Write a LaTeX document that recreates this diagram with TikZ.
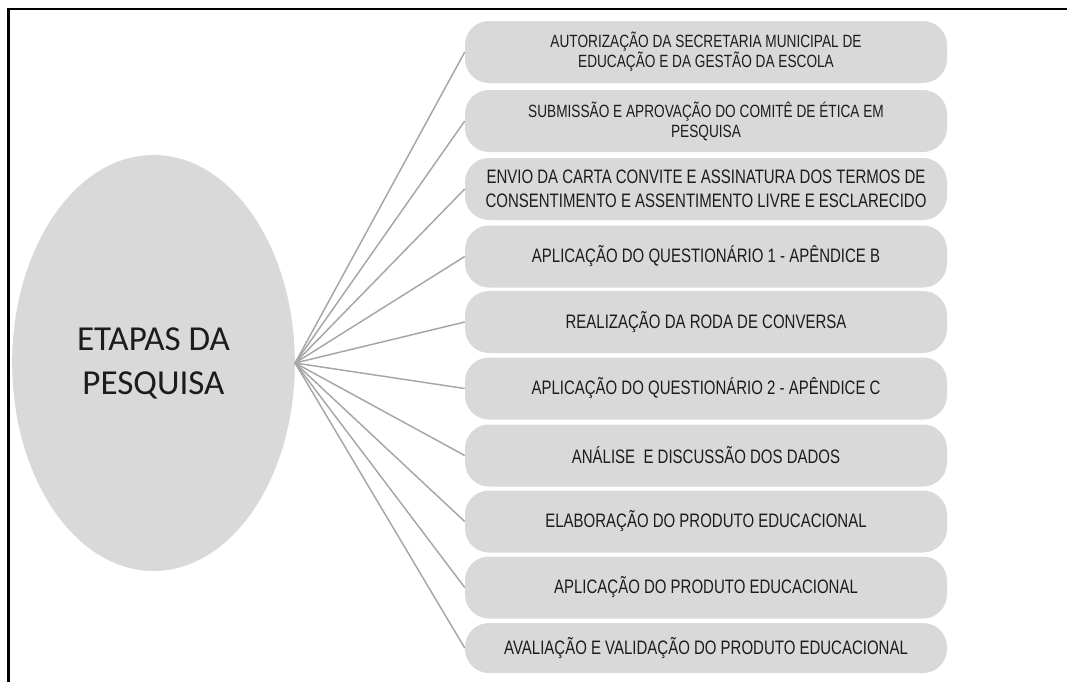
\documentclass[tikz,border=0pt]{standalone}
\usepackage{fontspec}
\setmainfont{Liberation Sans}
\newfontfamily\stepfont[FakeStretch=0.77]{Liberation Sans}
\newfontfamily\hubfont{Carlito}
\usepackage{tikz}
\usetikzlibrary{shapes.geometric}
\definecolor{stepgray}{HTML}{D9D9D9}
\definecolor{linkgray}{HTML}{A6A6A6}
\definecolor{inkgray}{HTML}{1C1C1C}
\tikzset{
  hub/.style={ellipse, fill=stepgray, minimum width=212pt, minimum height=312pt, inner sep=0pt,
    text=inkgray, align=center, font=\hubfont\fontsize{26.3}{33}\selectfont},
  stepbox/.style={fill=stepgray, rounded corners=18pt, minimum width=361.5pt, minimum height=46.5pt,
    inner sep=0pt, text=inkgray, align=center, font=\stepfont\fontsize{14.6}{18}\selectfont},
  stepsmall/.style={stepbox, font=\stepfont\fontsize{13.3}{15}\selectfont},
  link/.style={linkgray, line width=1.1pt},
  frameline/.style={black, line width=1.9pt},
}

\begin{document}
\begin{tikzpicture}[x=0.75pt,y=-0.75pt]
  \useasboundingbox (0,0) rectangle (1067,682);
  \draw[frameline] (8.5,682) -- (8.5,9) -- (1067,9);
  \node[hub] (etapas) at (153.5,363) {ETAPAS DA\\PESQUISA};
  \node[stepsmall] (s1) at (706,52) {AUTORIZAÇÃO DA SECRETARIA MUNICIPAL DE\\EDUCAÇÃO E DA GESTÃO DA ESCOLA};
  \node[stepsmall] (s2) at (706,121) {SUBMISSÃO E APROVAÇÃO DO COMITÊ DE ÉTICA EM\\PESQUISA};
  \node[stepbox] (s3) at (706,189) {ENVIO DA CARTA CONVITE E ASSINATURA DOS TERMOS DE\\CONSENTIMENTO E ASSENTIMENTO LIVRE E ESCLARECIDO};
  \node[stepbox] (s4) at (706,256.5) {APLICAÇÃO DO QUESTIONÁRIO 1 - APÊNDICE B};
  \node[stepbox] (s5) at (706,322) {REALIZAÇÃO DA RODA DE CONVERSA};
  \node[stepbox] (s6) at (706,388.5) {APLICAÇÃO DO QUESTIONÁRIO 2 - APÊNDICE C};
  \node[stepbox] (s7) at (706,455.5) {ANÁLISE\ \ E DISCUSSÃO DOS DADOS};
  \node[stepbox] (s8) at (706,521.5) {ELABORAÇÃO DO PRODUTO EDUCACIONAL};
  \node[stepbox] (s9) at (706,587.5) {APLICAÇÃO DO PRODUTO EDUCACIONAL};
  \node[stepbox, minimum height=37.5pt] (s10) at (706,648) {AVALIAÇÃO E VALIDAÇÃO DO PRODUTO EDUCACIONAL};
  \foreach \s in {s1,s2,s3,s4,s5,s6,s7,s8,s9,s10}
    \draw[link] (etapas.east) -- (\s.west);
\end{tikzpicture}
\end{document}
